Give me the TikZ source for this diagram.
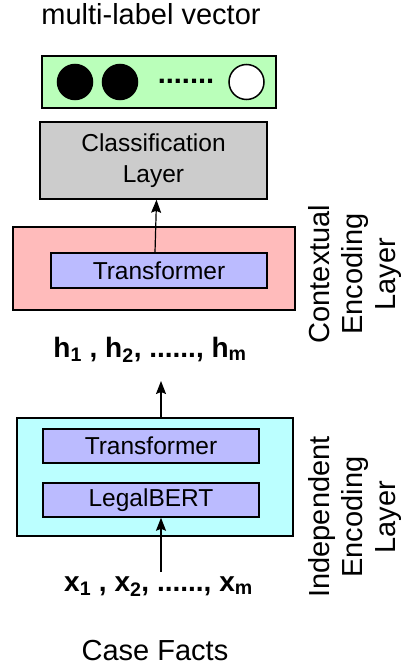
\documentclass[tikz,border=0pt]{standalone}
\usepackage{fontspec}
\setmainfont{Liberation Sans}
\usetikzlibrary{arrows.meta,positioning}

\definecolor{vecgreen}{RGB}{186,255,186}
\definecolor{clsgray}{RGB}{204,204,204}
\definecolor{ctxpink}{RGB}{255,187,187}
\definecolor{indcyan}{RGB}{187,255,255}
\definecolor{tfblue}{RGB}{187,187,255}

\begin{document}
\begin{tikzpicture}[x=1pt, y=-1pt,
  box/.style={draw, line width=1.5pt, inner sep=0pt},
  lbl/.style={font=\fontsize{24.5}{31}\selectfont, align=center},
  big/.style={font=\fontsize{29}{33}\selectfont, align=center},
  dot/.style={circle, draw, line width=1.5pt, minimum size=35pt, inner sep=0pt},
  arr/.style={-{Stealth[length=13pt,width=10pt,inset=2pt]}, line width=1.2pt}]

\useasboundingbox (0,0) rectangle (401,666);

% Output vector
\node[big, anchor=base] (title) at (151,25) {multi-label vector};
\node[box, fill=vecgreen, minimum width=234pt, minimum height=52pt] (vec) at (159,82) {};
\node[dot, fill=black] (c1) at (75,82) {};
\node[dot, fill=black] (c2) at (120,82) {};
\node[big, anchor=base] (dots) at (186,84) {\bfseries .......};
\node[dot, fill=white] (c3) at (246.5,82) {};

% Classification layer
\node[box, lbl, fill=clsgray, minimum width=227pt, minimum height=77pt] (cls) at (153.5,160.5) {Classification\\Layer};

% Contextual encoding layer
\node[box, fill=ctxpink, minimum width=282pt, minimum height=83pt] (ctx) at (154,268.5) {};
\node[box, lbl, fill=tfblue, minimum width=216pt, minimum height=35pt] (ctrans) at (159,270.5) {Transformer};
\node[big, rotate=90] (ctxlbl) at (355,274) {Contextual\\Encoding\\Layer};

% Hidden vectors
\node[font=\bfseries\fontsize{28}{33}\selectfont, anchor=base] (hvec) at (150,357)
  {h\textsubscript{1} , h\textsubscript{2}, ......, h\textsubscript{m}};
\coordinate (htip) at (161,381);

% Independent encoding layer
\node[box, fill=indcyan, minimum width=276pt, minimum height=118pt] (ind) at (155,477) {};
\node[box, lbl, fill=tfblue, minimum width=216pt, minimum height=34pt] (itrans) at (151,446) {Transformer};
\node[box, lbl, fill=tfblue, minimum width=216pt, minimum height=34pt] (bert) at (151,500) {LegalBERT};
\node[big, rotate=90] (indlbl) at (355,517) {Independent\\Encoding\\Layer};

% Inputs
\node[font=\bfseries\fontsize{28}{33}\selectfont, anchor=base] (xvec) at (158.5,591)
  {x\textsubscript{1} , x\textsubscript{2}, ......, x\textsubscript{m}};
\coordinate (xtail) at (161,572);
\node[big, anchor=base] (facts) at (155,660) {Case Facts};

% Arrows
\draw[arr] (xtail) -- (xtail |- bert.south);
\draw[arr] (ind.north -| htip) -- (htip);
\draw[arr] ([xshift=-4pt]ctrans.north) -- ([xshift=3pt]cls.south);

\end{tikzpicture}
\end{document}
